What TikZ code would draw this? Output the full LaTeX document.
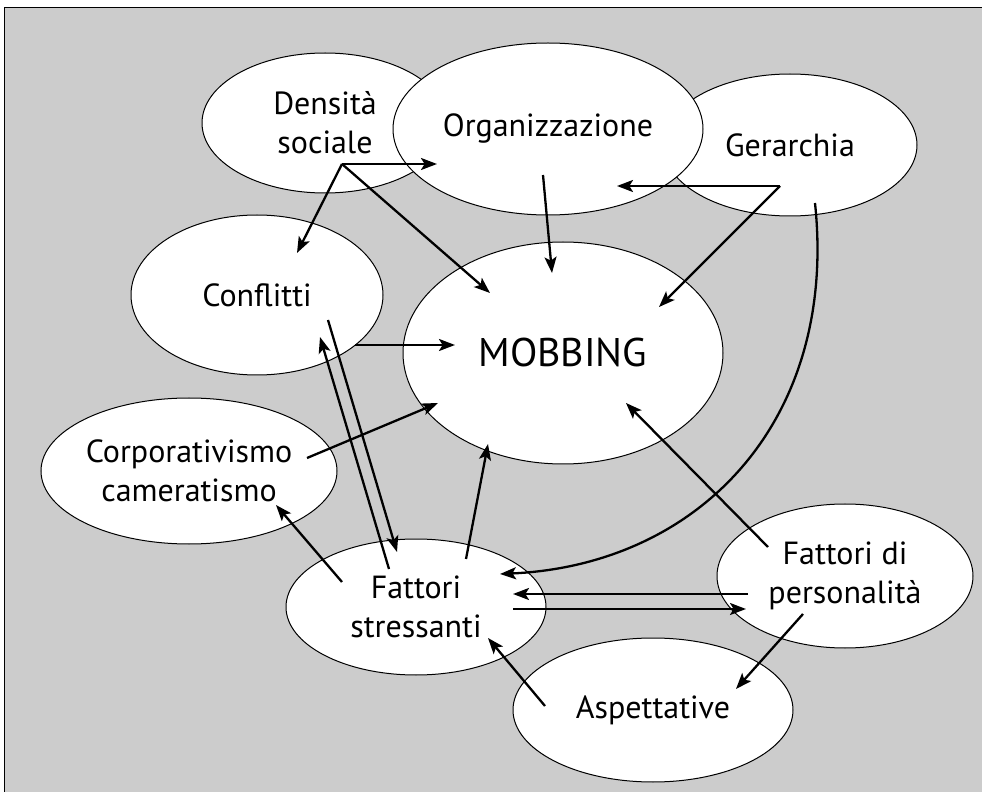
\documentclass[tikz,border=0pt]{standalone}
\usepackage{fontspec}
\setmainfont{PT Sans}
\usetikzlibrary{shapes.geometric, arrows.meta}
\definecolor{panelgray}{RGB}{204,204,204}
\tikzset{
    mapblob/.style={ellipse, draw=black, fill=white, line width=0.5pt, inner sep=0pt, align=center, font=\fontsize{16}{19.5}\selectfont},
    mapbig/.style={font=\fontsize{20}{24}\selectfont},
    maparrow/.style={-{Stealth[length=8pt, width=6pt, inset=1.8pt]}, line width=1.15pt}
}

\begin{document}
\begin{tikzpicture}[x=0.5pt, y=-0.5pt]
\useasboundingbox (0,0) rectangle (982,792);
\draw[fill=panelgray, line width=0.5pt] (4,8) rectangle (1000,810);

% ellipses, back to front
\node[mapblob, minimum width=123pt, minimum height=70pt] (dens) at (325,123) {Densità\\sociale};
\node[mapblob, minimum width=127pt, minimum height=71pt] (ger) at (790,145) {Gerarchia};
\node[mapblob, minimum width=155pt, minimum height=86pt] (org) at (548,129) {Organizzazione};
\node[mapblob, minimum width=126pt, minimum height=80pt] (conf) at (257,295) {Conflitti};
\node[mapblob, minimum width=148pt, minimum height=73pt] (corp) at (189,471) {Corporativismo\\cameratismo};
\node[mapblob, mapbig, minimum width=160pt, minimum height=111pt] (mob) at (563,353) {MOBBING};
\node[mapblob, minimum width=130pt, minimum height=68pt] (stress) at (416,607) {Fattori\\stressanti};
\node[mapblob, minimum width=128pt, minimum height=72pt] (pers) at (845,576) {Fattori di\\personalità};
\node[mapblob, minimum width=140pt, minimum height=72pt] (asp) at (653,710) {Aspettative};

% arrow end points
\coordinate (dens-out) at (342,164);
\coordinate (org-in) at (437,164);
\coordinate (conf-top) at (297,253);
\coordinate (mob-nw) at (490,293);
\coordinate (org-out) at (543,175);
\coordinate (mob-n) at (552,273);
\coordinate (ger-out) at (780,186);
\coordinate (org-east) at (617,186);
\coordinate (mob-ne) at (659,307);
\coordinate (ger-down) at (815,203);
\coordinate (stress-arc) at (500,574);
\coordinate (conf-out) at (355,345);
\coordinate (mob-w) at (455,345);
\coordinate (conf-down) at (328,320);
\coordinate (stress-top) at (397,552);
\coordinate (stress-up) at (389,569);
\coordinate (conf-in) at (320,337);
\coordinate (corp-out) at (307,458);
\coordinate (mob-sw) at (438,403);
\coordinate (stress-nw) at (342,582);
\coordinate (corp-in) at (276,505);
\coordinate (stress-n) at (466,559);
\coordinate (mob-s) at (488,444);
\coordinate (pers-nw) at (768,547);
\coordinate (mob-se) at (626,403);
\coordinate (pers-w1) at (748,594);
\coordinate (stress-e1) at (513,594);
\coordinate (stress-e2) at (513,609);
\coordinate (pers-w2) at (746,609);
\coordinate (pers-sw) at (803,614);
\coordinate (asp-in) at (736,689);
\coordinate (asp-out) at (545,706);
\coordinate (stress-se) at (488,638);

% connectors
\draw[maparrow] (dens-out) -- (org-in);
\draw[maparrow] (dens-out) -- (conf-top);
\draw[maparrow] (dens-out) -- (mob-nw);
\draw[maparrow] (org-out) -- (mob-n);
\draw[maparrow] (ger-out) -- (org-east);
\draw[maparrow] (ger-out) -- (mob-ne);
\draw[maparrow] (ger-down) .. controls (838,420) and (700,565) .. (stress-arc);
\draw[maparrow] (conf-out) -- (mob-w);
\draw[maparrow] (conf-down) -- (stress-top);
\draw[maparrow] (stress-up) -- (conf-in);
\draw[maparrow] (corp-out) -- (mob-sw);
\draw[maparrow] (stress-nw) -- (corp-in);
\draw[maparrow] (stress-n) -- (mob-s);
\draw[maparrow] (pers-nw) -- (mob-se);
\draw[maparrow] (pers-w1) -- (stress-e1);
\draw[maparrow] (stress-e2) -- (pers-w2);
\draw[maparrow] (pers-sw) -- (asp-in);
\draw[maparrow] (asp-out) -- (stress-se);

\end{tikzpicture}
\end{document}
